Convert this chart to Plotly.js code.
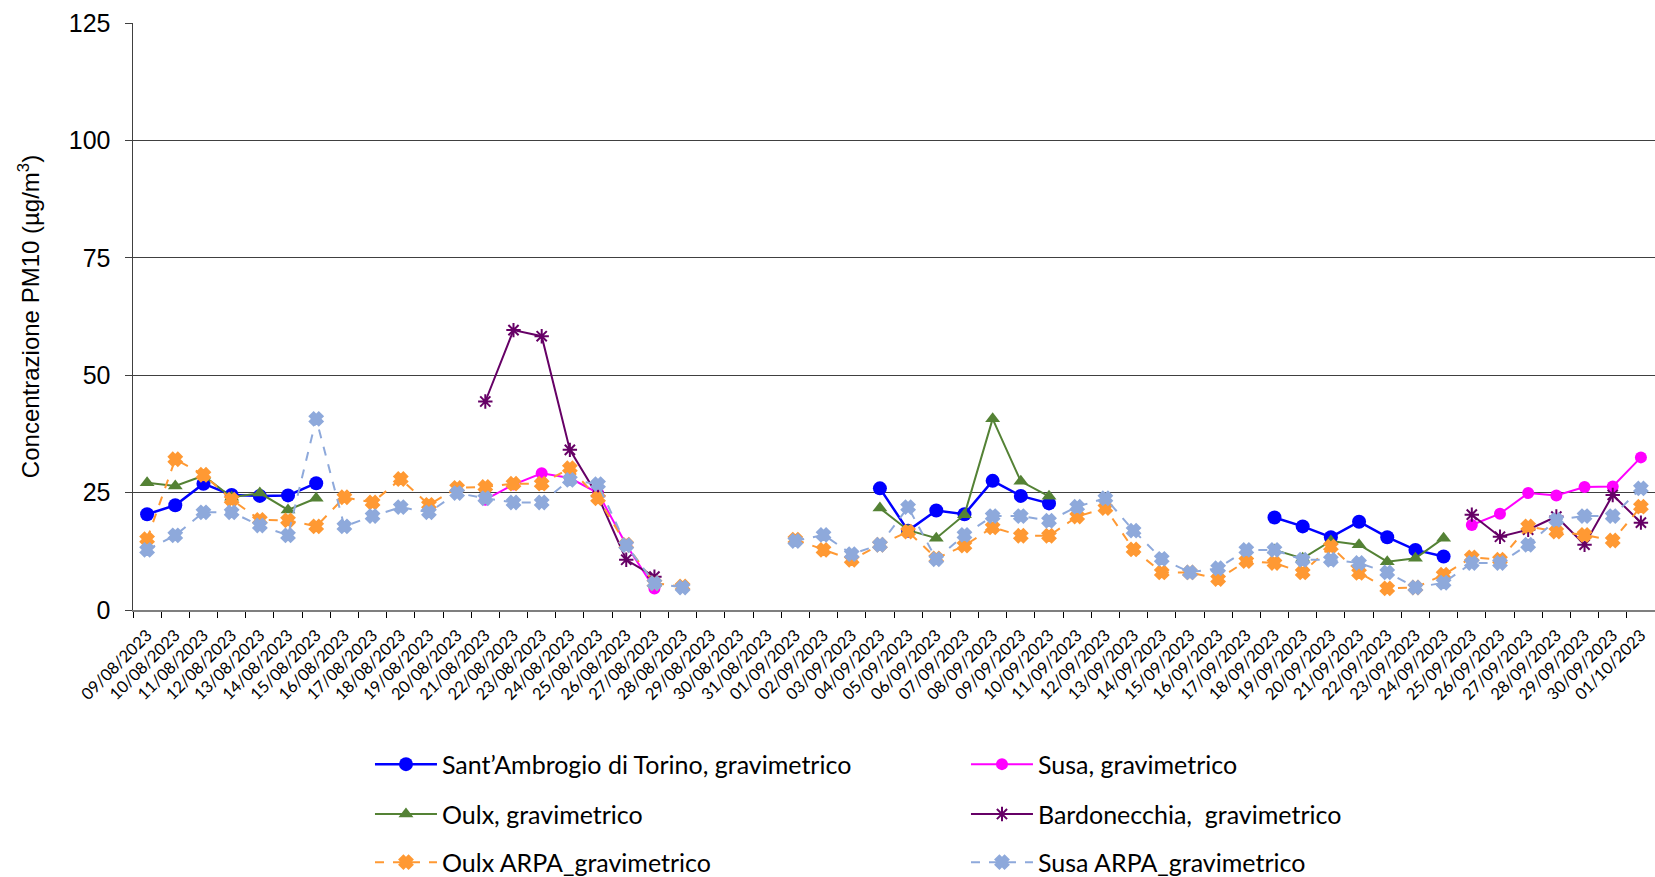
<!DOCTYPE html>
<html>
<head>
<meta charset="utf-8">
<script src="https://cdn.plot.ly/plotly-3.0.1.min.js"></script>
<style>
  html, body { margin: 0; padding: 0; background: #ffffff; }
  #chart { width: 1655px; height: 877px; }
</style>
</head>
<body>
<div id="chart"></div>
<script>
// Daily sampling dates (category axis)
const dates = [
  "09/08/2023","10/08/2023","11/08/2023","12/08/2023","13/08/2023","14/08/2023","15/08/2023",
  "16/08/2023","17/08/2023","18/08/2023","19/08/2023","20/08/2023","21/08/2023","22/08/2023",
  "23/08/2023","24/08/2023","25/08/2023","26/08/2023","27/08/2023","28/08/2023","29/08/2023",
  "30/08/2023","31/08/2023","01/09/2023","02/09/2023","03/09/2023","04/09/2023","05/09/2023",
  "06/09/2023","07/09/2023","08/09/2023","09/09/2023","10/09/2023","11/09/2023","12/09/2023",
  "13/09/2023","14/09/2023","15/09/2023","16/09/2023","17/09/2023","18/09/2023","19/09/2023",
  "20/09/2023","21/09/2023","22/09/2023","23/09/2023","24/09/2023","25/09/2023","26/09/2023",
  "27/09/2023","28/09/2023","29/09/2023","30/09/2023","01/10/2023"
];

// PM10 concentrations (µg/m³), null = no sample
const santAmbrogio = [
  20.4, 22.3, 26.9, 24.5, 24.3, 24.4, 27.0,
  null, null, null, null, null, null, null,
  null, null, null, null, null, null, null,
  null, null, null, null, null, 25.9, 16.9,
  21.2, 20.4, 27.5, 24.3, 22.7, null, null,
  null, null, null, null, null, 19.7, 17.8,
  15.5, 18.8, 15.5, 12.8, 11.4, null, null,
  null, null, null, null, null
];
const susa = [
  null, null, null, null, null, null, null,
  null, null, null, null, null, 23.5, 26.7,
  29.1, 28.1, 24.9, 13.9, 4.6, null, null,
  null, null, null, null, null, null, null,
  null, null, null, null, null, null, null,
  null, null, null, null, null, null, null,
  null, null, null, null, null, 18.1, 20.5,
  24.9, 24.4, 26.2, 26.3, 32.5
];
const oulx = [
  27.1, 26.4, 28.6, 24.0, 24.9, 21.3, 23.8,
  null, null, null, null, null, null, null,
  null, null, null, null, null, null, null,
  null, null, null, null, null, 21.7, 17.0,
  15.3, 20.3, 40.7, 27.4, 24.2, null, null,
  null, null, null, null, null, 12.8, 11.0,
  14.7, 13.9, 10.3, 11.0, 15.3, null, null,
  null, null, null, null, null
];
const bardonecchia = [
  null, null, null, null, null, null, null,
  null, null, null, null, null, 44.4, 59.6,
  58.3, 34.1, 24.2, 10.7, 7.1, null, null,
  null, null, null, null, null, null, null,
  null, null, null, null, null, null, null,
  null, null, null, null, null, null, null,
  null, null, null, null, null, 20.3, 15.6,
  17.1, 19.9, 13.9, 24.5, 18.6
];
const oulxArpa = [
  15.1, 32.1, 28.8, 23.5, 19.2, 19.1, 17.8,
  24.0, 22.9, 27.9, 22.4, 26.0, 26.2, 26.9,
  26.9, 30.2, 23.8, 13.9, 5.7, 5.0, null,
  null, null, 15.0, 12.8, 10.7, 13.9, 16.7,
  11.0, 13.7, 17.6, 15.8, 15.8, 19.9, 21.7,
  12.9, 8.0, 8.0, 6.6, 10.4, 10.0, 8.0,
  13.5, 7.9, 4.6, 4.8, 7.5, 11.2, 10.7,
  17.8, 16.7, 16.0, 14.8, 22.0
];
const susaArpa = [
  12.8, 15.9, 20.8, 20.8, 18.0, 15.9, 40.7,
  17.8, 20.0, 21.9, 20.8, 24.9, 23.8, 22.9,
  22.9, 27.7, 26.8, 13.8, 5.7, 4.8, null,
  null, null, 14.7, 16.0, 11.9, 13.9, 21.9,
  10.8, 16.0, 20.0, 20.0, 19.0, 22.0, 23.8,
  16.9, 10.9, 8.0, 8.9, 12.8, 12.8, 10.7,
  10.7, 10.0, 8.0, 4.8, 5.8, 10.0, 10.0,
  13.9, 19.2, 20.0, 20.0, 25.9
];

const seriesNames = [
  "Sant\u2019Ambrogio di Torino, gravimetrico",
  "Susa, gravimetrico",
  "Oulx, gravimetrico",
  "Bardonecchia,  gravimetrico",
  "Oulx ARPA_gravimetrico",
  "Susa ARPA_gravimetrico"
];

function series(name, y, color, dash, width, symbol, size, legendId, lineMarker) {
  return {
    type: "scatter",
    mode: "lines+markers",
    x: dates,
    y: y,
    name: name,
    legend: legendId,
    connectgaps: false,
    line: { color: color, width: width, dash: dash },
    marker: {
      color: color,
      symbol: symbol,
      size: size,
      line: { color: color, width: lineMarker }
    },
    hoverinfo: "x+y+name"
  };
}

const traces = [
  series(seriesNames[0], santAmbrogio, "#0000FF", "solid", 2.5, "circle", 14, "legend", 0),
  series(seriesNames[1], susa, "#FF00FF", "solid", 2, "circle", 12, "legend", 0),
  series(seriesNames[2], oulx, "#548235", "solid", 2, "triangle-up", 13, "legend2", 0),
  series(seriesNames[3], bardonecchia, "#660066", "solid", 2, "asterisk-open", 12, "legend2", 2),
  series(seriesNames[4], oulxArpa, "#FF9933", "dash", 2, "x", 9, "legend3", 4),
  series(seriesNames[5], susaArpa, "#8EA9DB", "dash", 2, "x", 9, "legend3", 4)
];

// one legend per row, two entries side by side
function legendRow(y) {
  return {
    orientation: "h",
    x: 0.1557,
    xanchor: "left",
    y: y,
    yanchor: "middle",
    entrywidth: 519,
    entrywidthmode: "pixels",
    itemwidth: 62,
    bgcolor: "rgba(0,0,0,0)",
    font: { family: "Lato, sans-serif", size: 25, color: "#000000" }
  };
}

const layout = {
  width: 1655,
  height: 877,
  margin: { l: 133, r: 0, t: 23, b: 267, autoexpand: false },
  paper_bgcolor: "#ffffff",
  plot_bgcolor: "#ffffff",
  showlegend: true,
  xaxis: {
    type: "category",
    range: [-0.5, dates.length - 0.5],
    tickangle: -45,
    tickfont: { family: "Lato, sans-serif", size: 16.5, color: "#000000" },
    ticks: "outside",
    tickson: "boundaries",
    ticklen: 6,
    ticklabelstandoff: 7,
    tickcolor: "#000000",
    showgrid: false,
    showline: true,
    linecolor: "#7f7f7f",
    linewidth: 2,
    zeroline: false,
    automargin: false
  },
  yaxis: {
    range: [0, 125],
    tick0: 0,
    dtick: 25,
    tickfont: { family: "Liberation Sans, Arial, sans-serif", size: 25, color: "#000000" },
    ticks: "outside",
    ticklen: 7,
    ticklabelstandoff: 9,
    tickcolor: "#404040",
    showgrid: true,
    gridcolor: "#404040",
    gridwidth: 1.2,
    showline: true,
    linecolor: "#404040",
    linewidth: 1.5,
    zeroline: false,
    automargin: false,
    title: {
      text: "Concentrazione PM10 (\u00b5g/m<sup>3</sup>)",
      font: { family: "Liberation Sans, Arial, sans-serif", size: 24, color: "#000000" },
      standoff: 22
    }
  },
  legend: legendRow(-0.263),
  legend2: legendRow(-0.348),
  legend3: legendRow(-0.430)
};

Plotly.newPlot("chart", traces, layout, { displayModeBar: false, staticPlot: true });
</script>
</body>
</html>
